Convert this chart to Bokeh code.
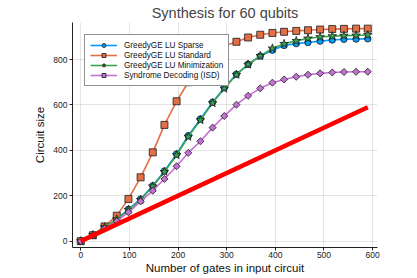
import math
from bokeh.plotting import figure
from bokeh.models import Range1d, FixedTicker
from bokeh.embed import file_html
from bokeh.resources import INLINE

# ---- data ----
gates = [0, 25, 49, 74, 98, 123, 148, 172, 197, 221, 246, 271, 295,
         320, 344, 369, 394, 418, 443, 467, 492, 517, 541, 566, 590]
lu_sparse = [0, 27, 62, 97, 140, 185, 244, 309, 384, 464, 538, 612, 676,
             735, 779, 815, 841, 862, 870, 875, 881, 886, 889, 890, 891]
lu_standard = [0, 26, 65, 112, 186, 281, 391, 512, 616, 700, 770, 822, 860,
               878, 897, 909, 917, 922, 926, 929, 932, 934, 935, 936, 936]
lu_minimization = [0, 27, 62, 96, 138, 182, 241, 305, 379, 460, 533, 608, 672,
                   733, 778, 816, 849, 869, 882, 893, 899, 903, 905, 906, 908]
isd = [0, 26, 55, 88, 127, 175, 222, 274, 330, 389, 440, 500, 551,
       601, 640, 673, 698, 712, 724, 733, 739, 743, 745, 746, 746]
reference_line = [0, 590]
reference_x = [0, 590]

x_ticks = [0, 100, 200, 300, 400, 500, 600]
y_ticks = [0, 200, 400, 600, 800]

FONT = "Liberation Sans"

p = figure(width=417, height=278, output_backend="svg", toolbar_location=None,
           x_range=Range1d(-17, 610), y_range=Range1d(-28, 963),
           min_border_left=72, min_border_right=40, min_border_top=22,
           min_border_bottom=31, title="Synthesis for 60 qubits")
p.outline_line_color = None
p.background_fill_color = "white"
p.border_fill_color = "white"

p.title.text_font = FONT
p.title.text_font_size = "14.5px"
p.title.text_font_style = "normal"
p.title.align = "center"
p.title.standoff = 3
p.title.offset = 0

for ax in (p.xaxis[0], p.yaxis[0]):
    ax.axis_line_color = "#222222"
    ax.axis_line_width = 1
    ax.major_tick_line_color = "#222222"
    ax.major_tick_in = 0
    ax.major_tick_out = 3
    ax.minor_tick_line_color = None
    ax.major_label_text_font = FONT
    ax.major_label_text_font_size = "8.5px"
    ax.major_label_text_color = "#222222"
    ax.axis_label_text_font = FONT
    ax.axis_label_text_font_size = "11.5px"
    ax.axis_label_text_font_style = "normal"
    ax.axis_label_text_color = "#111111"

p.xaxis.ticker = FixedTicker(ticks=x_ticks)
p.yaxis.ticker = FixedTicker(ticks=y_ticks)
p.xaxis.axis_label = "Number of gates in input circuit"
p.yaxis.axis_label = "Circuit size"
p.xaxis.major_label_standoff = 1
p.xaxis.axis_label_standoff = 1
p.yaxis.major_label_standoff = 2
p.yaxis.axis_label_standoff = 4

p.grid.grid_line_color = "black"
p.grid.grid_line_alpha = 0.1
p.grid.grid_line_width = 1

BLUE = "#009AFA"
ORANGE = "#E36F47"
GREEN = "#3EA44E"
PURPLE = "#C371D2"
EDGE = "#1a1a1a"

series = [
    ("GreedyGE LU Sparse", lu_sparse, BLUE, "circle", 6.5, 0),
    ("GreedyGE LU Standard", lu_standard, ORANGE, "square", 7, 0),
    ("GreedyGE LU Minimization", lu_minimization, GREEN, "star", 9, 0),
    ("Syndrome Decoding (ISD)", isd, PURPLE, "square", 5, math.pi / 4),
]
for name, ys, col, mk, sz, ang in series:
    p.line(gates, ys, line_color=col, line_width=1.6, legend_label=name)
    p.scatter(gates, ys, marker=mk, size=sz, angle=ang, fill_color=col,
              line_color=EDGE, line_width=0.8, legend_label=name)

p.line(reference_x, reference_line, line_color="#FF0000", line_width=4.5)

lg = p.legend[0]
lg.location = "top_left"
lg.margin = 12
lg.padding = 5
lg.spacing = 0
lg.glyph_width = 27
lg.glyph_height = 10
lg.label_height = 10
lg.label_standoff = 7
lg.label_text_font = FONT
lg.label_text_font_size = "8.2px"
lg.label_text_color = "#111111"
lg.border_line_color = "#222222"
lg.border_line_width = 1
lg.background_fill_color = "white"
lg.background_fill_alpha = 1.0

open("out.html", "w").write(file_html(p, INLINE))
